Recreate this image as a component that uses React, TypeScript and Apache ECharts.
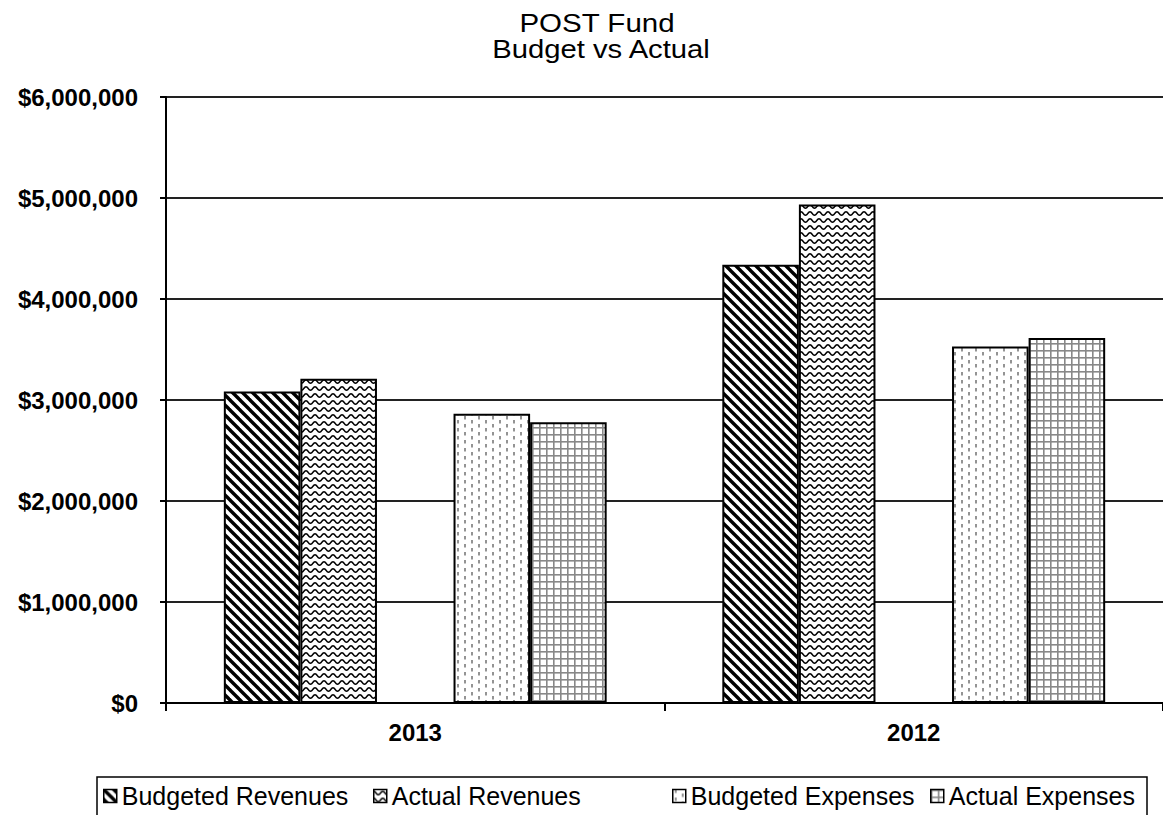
import React, { useEffect, useRef } from 'react';
import * as echarts from 'echarts';

const titleLines = ['POST Fund', 'Budget vs Actual'];
const categories = ['2013', '2012'];
const seriesNames = ['Budgeted Revenues', 'Actual Revenues', 'Budgeted Expenses', 'Actual Expenses'];
const budgetedRevenues = [3085000, 4340000];
const actualRevenues = [3210000, 4935000];
const budgetedExpenses = [2865000, 3530000];
const actualExpenses = [2780000, 3615000];
const gapSeries: (number | null)[] = [null, null];
const yMin = 0;
const yMax = 6000000;
const yStep = 1000000;

type Draw = (ctx: CanvasRenderingContext2D, w: number, h: number) => void;

function makeTile(w: number, h: number, draw: Draw) {
  const c = document.createElement('canvas');
  c.width = w;
  c.height = h;
  const ctx = c.getContext('2d') as CanvasRenderingContext2D;
  ctx.fillStyle = '#ffffff';
  ctx.fillRect(0, 0, w, h);
  draw(ctx, w, h);
  return { image: c.toDataURL(), repeat: 'repeat', imageWidth: w, imageHeight: h } as any;
}

function diagonal() {
  return makeTile(10, 10, (ctx) => {
    ctx.strokeStyle = '#000';
    ctx.lineWidth = 3.4;
    for (const o of [-10, 0, 10]) {
      ctx.beginPath();
      ctx.moveTo(o - 3, -3);
      ctx.lineTo(o + 13, 13);
      ctx.stroke();
    }
  });
}

function wave() {
  return makeTile(9, 7, (ctx) => {
    ctx.strokeStyle = '#000';
    ctx.lineWidth = 1.5;
    ctx.beginPath();
    for (let x = -1; x <= 10; x += 0.5) {
      const y = 3.5 - 1.7 * Math.cos((2 * Math.PI * x) / 9);
      if (x === -1) ctx.moveTo(x, y);
      else ctx.lineTo(x, y);
    }
    ctx.stroke();
  });
}

function dashes() {
  return makeTile(14, 8, (ctx) => {
    ctx.strokeStyle = '#7a7a7a';
    ctx.lineWidth = 1.6;
    ctx.beginPath();
    ctx.moveTo(3, 0);
    ctx.lineTo(3, 3.5);
    ctx.moveTo(10, 4);
    ctx.lineTo(10, 7.5);
    ctx.stroke();
  });
}

function gridTile() {
  return makeTile(7, 7, (ctx) => {
    ctx.fillStyle = '#888888';
    ctx.fillRect(0, 0, 1.6, 7);
    ctx.fillRect(0, 0, 7, 1.6);
  });
}

export default function App() {
  const ref = useRef<HTMLDivElement>(null);
  useEffect(() => {
    document.body.style.margin = '0';
    if (!ref.current) return;
    const chart = echarts.init(ref.current, undefined, { renderer: 'svg' });
    const patterns = [diagonal(), wave(), dashes(), gridTile()];
    const values = [budgetedRevenues, actualRevenues, budgetedExpenses, actualExpenses];
    const barStyle = (i: number) => ({
      color: patterns[i],
      borderColor: '#000',
      borderWidth: 2,
    });
    const series: any[] = [];
    [0, 1].forEach((i) => {
      series.push({ name: seriesNames[i], type: 'bar', data: values[i], itemStyle: barStyle(i), barGap: '0%', barCategoryGap: '23.2%' });
    });
    series.push({ name: 'gap', type: 'bar', data: gapSeries, itemStyle: { color: 'transparent' }, barGap: '0%', barCategoryGap: '23.2%' });
    [2, 3].forEach((i) => {
      series.push({ name: seriesNames[i], type: 'bar', data: values[i], itemStyle: barStyle(i), barGap: '0%', barCategoryGap: '23.2%' });
    });
    const legendCommon = {
      orient: 'horizontal',
      top: 783,
      itemWidth: 13,
      itemHeight: 13,
      itemStyle: { borderColor: '#000', borderWidth: 1.5 },
      textStyle: { fontFamily: 'Liberation Sans, Arial, sans-serif', fontSize: 25, color: '#000', lineHeight: 26 },
      icon: 'rect',
      selectedMode: false,
      padding: 0,
    };
    const legendLefts = [103, 373, 672, 930];
    chart.setOption({
      animation: false,
      backgroundColor: '#ffffff',
      grid: { left: 166, right: 0, top: 97, bottom: 112, containLabel: false },
      legend: seriesNames.map((n, i) => ({ ...legendCommon, left: legendLefts[i], data: [n] })),
      graphic: [
        {
          type: 'rect',
          shape: { x: 97, y: 777, width: 1050, height: 45 },
          style: { fill: 'none', stroke: '#000', lineWidth: 1.5 },
          silent: true,
        },
        {
          type: 'text',
          x: 597,
          y: 23,
          scaleX: 1.18,
          style: { text: titleLines[0], font: '25px "Liberation Sans", Arial, sans-serif', fill: '#000', textAlign: 'center', textVerticalAlign: 'middle' },
        },
        {
          type: 'text',
          x: 601,
          y: 49,
          scaleX: 1.17,
          style: { text: titleLines[1], font: '25px "Liberation Sans", Arial, sans-serif', fill: '#000', textAlign: 'center', textVerticalAlign: 'middle' },
        },
      ],
      xAxis: {
        type: 'category',
        data: categories,
        axisLine: { show: true, lineStyle: { color: '#000', width: 2 } },
        axisTick: { show: true, length: 8, interval: 0, lineStyle: { color: '#000', width: 2 } },
        axisLabel: { margin: 17, fontFamily: 'Liberation Sans, Arial, sans-serif', fontWeight: 'bold', fontSize: 24, color: '#000' },
        splitLine: { show: false },
      },
      yAxis: {
        type: 'value',
        min: yMin,
        max: yMax,
        interval: yStep,
        axisLine: { show: true, lineStyle: { color: '#000', width: 2 } },
        axisTick: { show: true, length: 6, lineStyle: { color: '#000', width: 2 } },
        axisLabel: {
          margin: 28,
          fontFamily: 'Liberation Sans, Arial, sans-serif',
          fontWeight: 'bold',
          fontSize: 24,
          color: '#000',
          formatter: (v: number) => '$' + v.toLocaleString('en-US'),
        },
        splitLine: { show: true, lineStyle: { color: '#222', width: 2 } },
      },
      series,
    });
    return () => chart.dispose();
  }, []);
  return <div ref={ref} style={{ width: 1163, height: 815 }} />;
}
